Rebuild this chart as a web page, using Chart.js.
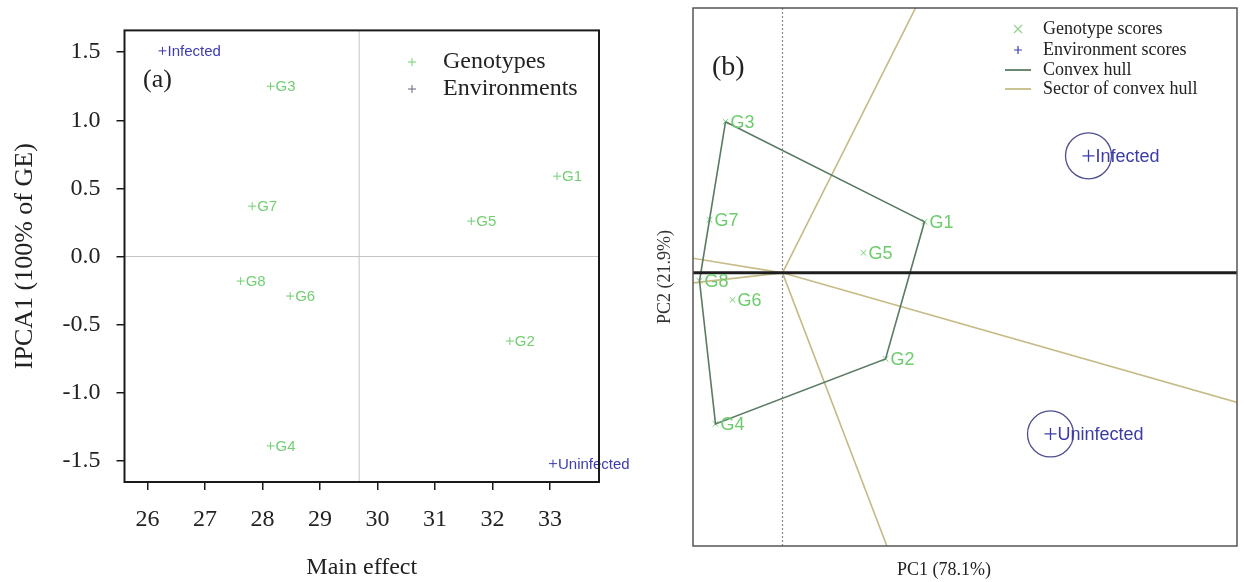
<!DOCTYPE html>
<html>
<head>
<meta charset="utf-8">
<script src="https://cdn.jsdelivr.net/npm/chart.js@4.4.1/dist/chart.umd.min.js"></script>
<style>
  body { margin: 0; background: #fff; width: 1244px; height: 582px; overflow: hidden; position: relative; }
  #ammi { position: absolute; left: 0; top: 0; }
  #gge { position: absolute; left: 640px; top: 0; }
</style>
</head>
<body>
<canvas id="ammi" width="640" height="582"></canvas>
<canvas id="gge" width="604" height="582"></canvas>
<script>
// ---- (a) AMMI1 biplot ----
var genotypes = ['G1', 'G2', 'G3', 'G4', 'G5', 'G6', 'G7', 'G8'];
var genoMean = [33.12, 32.30, 28.14, 28.14, 31.63, 28.48, 27.82, 27.62];
var genoIpca = [0.59, -0.62, 1.25, -1.39, 0.26, -0.29, 0.37, -0.18];
var environments = ['Infected', 'Uninfected'];
var envMean = [26.26, 33.05];
var envIpca = [1.51, -1.52];
var grandMean = 29.68;
var xTicksA = [26, 27, 28, 29, 30, 31, 32, 33];
var yTicksA = [-1.5, -1.0, -0.5, 0.0, 0.5, 1.0, 1.5];

// ---- (b) GGE polygon biplot ----
var genoPC1 = [1.42, 1.03, -0.57, -0.67, 0.81, -0.50, -0.73, -0.83];
var genoPC2 = [0.51, -0.86, 1.51, -1.51, 0.20, -0.27, 0.53, -0.08];
var envPC1 = [3.06, 2.68];
var envPC2 = [1.17, -1.61];
var hullOrder = ['G3', 'G1', 'G2', 'G4', 'G8', 'G3'];

var serif = '"Liberation Serif", "Times New Roman", serif';
var sans = '"Liberation Sans", Arial, sans-serif';
var green = '#72cf72';
var blue = '#3c3cb0';

function pts(xs, ys) {
  return xs.map(function (x, i) { return { x: x, y: ys[i] }; });
}

// text next to each point
var pointLabels = {
  id: 'pointLabels',
  afterDatasetsDraw: function (chart) {
    var ctx = chart.ctx;
    chart.data.datasets.forEach(function (ds, i) {
      if (!ds.labels) return;
      ctx.save();
      ctx.font = ds.labelFont;
      ctx.fillStyle = ds.labelColor;
      ctx.textBaseline = 'middle';
      ctx.textAlign = 'left';
      chart.getDatasetMeta(i).data.forEach(function (pt, j) {
        ctx.fillText(ds.labels[j], pt.x + ds.labelDx, pt.y + 1);
      });
      ctx.restore();
    });
  }
};

function mark(ctx, kind, x, y, s) {
  ctx.beginPath();
  if (kind === '+') {
    ctx.moveTo(x - s, y); ctx.lineTo(x + s, y);
    ctx.moveTo(x, y - s); ctx.lineTo(x, y + s);
  } else if (kind === 'x') {
    ctx.moveTo(x - s, y - s); ctx.lineTo(x + s, y + s);
    ctx.moveTo(x - s, y + s); ctx.lineTo(x + s, y - s);
  } else {
    ctx.moveTo(x - 13, y); ctx.lineTo(x + 13, y);
  }
  ctx.stroke();
}

// frame, reference lines, key and panel letter
var decorA = {
  id: 'decorA',
  beforeDatasetsDraw: function (chart) {
    var ctx = chart.ctx, a = chart.chartArea;
    var px = chart.scales.x.getPixelForValue(grandMean);
    var py = chart.scales.y.getPixelForValue(0);
    ctx.save();
    ctx.strokeStyle = '#c4c4c4';
    ctx.lineWidth = 1;
    ctx.beginPath();
    ctx.moveTo(px, a.top); ctx.lineTo(px, a.bottom);
    ctx.moveTo(a.left, py); ctx.lineTo(a.right, py);
    ctx.stroke();
    ctx.restore();
  },
  afterDraw: function (chart) {
    var ctx = chart.ctx, a = chart.chartArea;
    ctx.save();
    ctx.strokeStyle = '#1a1a1a';
    ctx.lineWidth = 2;
    ctx.strokeRect(a.left, a.top, a.right - a.left, a.bottom - a.top);
    ctx.font = '26px ' + serif;
    ctx.fillStyle = '#222';
    ctx.textBaseline = 'middle';
    ctx.fillText('(a)', 143, 80);
    ctx.font = '24px ' + serif;
    ctx.fillText('Genotypes', 443, 62);
    ctx.fillText('Environments', 443, 89);
    ctx.lineWidth = 1;
    ctx.strokeStyle = green;
    mark(ctx, '+', 412, 62, 4);
    ctx.strokeStyle = '#66667c';
    mark(ctx, '+', 412, 89, 4);
    ctx.restore();
  }
};

new Chart(document.getElementById('ammi'), {
  type: 'scatter',
  data: {
    datasets: [
      {
        data: pts(genoMean, genoIpca), labels: genotypes,
        pointStyle: 'cross', pointRadius: 4, borderColor: green, borderWidth: 1,
        labelColor: green, labelFont: '15px ' + sans, labelDx: 5
      },
      {
        data: pts(envMean, envIpca), labels: environments,
        pointStyle: 'cross', pointRadius: 4, borderColor: blue, borderWidth: 1,
        labelColor: blue, labelFont: '15px ' + sans, labelDx: 5
      }
    ]
  },
  options: {
    responsive: false,
    animation: false,
    devicePixelRatio: 1,
    layout: { autoPadding: false, padding: { left: 0, top: 10, right: 41, bottom: 0 } },
    plugins: { legend: { display: false }, tooltip: { enabled: false } },
    scales: {
      x: {
        type: 'linear', min: 25.6, max: 33.85,
        afterBuildTicks: function (s) { s.ticks = xTicksA.map(function (v) { return { value: v }; }); },
        afterFit: function (s) { s.height = 100; },
        grid: { drawOnChartArea: false, drawTicks: true, tickLength: 8, color: '#1a1a1a', lineWidth: 1.5 },
        border: { display: false },
        ticks: { font: { family: serif, size: 24 }, color: '#222', padding: 15, maxRotation: 0, autoSkip: false },
        title: { display: true, text: 'Main effect', font: { family: serif, size: 24 }, color: '#222', padding: { top: 0, bottom: 0 } }
      },
      y: {
        type: 'linear', min: -1.655, max: 1.66,
        afterBuildTicks: function (s) { s.ticks = yTicksA.map(function (v) { return { value: v }; }); },
        afterFit: function (s) { s.width = 124.5; },
        grid: { drawOnChartArea: false, drawTicks: true, tickLength: 8, color: '#1a1a1a', lineWidth: 1.5 },
        border: { display: false },
        ticks: {
          font: { family: serif, size: 24 }, color: '#222', padding: 16, autoSkip: false,
          callback: function (v) { return v.toFixed(1); }
        },
        title: { display: true, text: 'IPCA1 (100% of GE)', font: { family: serif, size: 26 }, color: '#222', padding: { top: 10, bottom: 0 } }
      }
    }
  },
  plugins: [decorA, pointLabels]
});

// ---- panel (b) ----
function geno(name) {
  var i = genotypes.indexOf(name);
  return { x: genoPC1[i], y: genoPC2[i] };
}
var hullPts = hullOrder.map(geno);

// sector lines: from the origin, perpendicular to each hull side
var rayData = [];
for (var k = 0; k < hullPts.length - 1; k++) {
  var dx = hullPts[k + 1].x - hullPts[k].x;
  var dy = hullPts[k + 1].y - hullPts[k].y;
  var len = Math.sqrt(dx * dx + dy * dy);
  rayData.push([{ x: 0, y: 0 }, { x: -dy / len * 20, y: dx / len * 20 }]);
}

var datasetsB = [
  {
    data: hullPts, showLine: true, pointRadius: 0, borderColor: '#5a7b63', borderWidth: 1.6, fill: false
  }
];
rayData.forEach(function (r) {
  datasetsB.push({ data: r, showLine: true, pointRadius: 0, borderColor: '#c6bb86', borderWidth: 1.6, fill: false });
});
datasetsB.push({
  data: pts(genoPC1, genoPC2), labels: genotypes,
  pointStyle: 'crossRot', pointRadius: 4, borderColor: green, borderWidth: 1,
  labelColor: '#6ccc6c', labelFont: '18px ' + sans, labelDx: 5
});
datasetsB.push({
  data: pts(envPC1, envPC2), labels: environments,
  pointStyle: 'cross', pointRadius: 6, borderColor: blue, borderWidth: 1.3,
  labelColor: '#3c3ca8', labelFont: '18px ' + sans, labelDx: 7
});
datasetsB.push({
  data: pts(envPC1, envPC2), pointStyle: 'circle', pointRadius: 23,
  borderColor: '#50508e', backgroundColor: 'rgba(0,0,0,0)', borderWidth: 1.3
});

var decorB = {
  id: 'decorB',
  beforeDatasetsDraw: function (chart) {
    var ctx = chart.ctx, a = chart.chartArea;
    var px = chart.scales.x.getPixelForValue(0);
    ctx.save();
    ctx.strokeStyle = '#8a8a8a';
    ctx.lineWidth = 1.2;
    ctx.setLineDash([2, 2]);
    ctx.beginPath();
    ctx.moveTo(px, a.top); ctx.lineTo(px, a.bottom);
    ctx.stroke();
    ctx.restore();
  },
  afterDatasetsDraw: function (chart) {
    var ctx = chart.ctx, a = chart.chartArea;
    var py = chart.scales.y.getPixelForValue(0);
    ctx.save();
    ctx.strokeStyle = '#1e1e1e';
    ctx.lineWidth = 3;
    ctx.beginPath();
    ctx.moveTo(a.left, py); ctx.lineTo(a.right, py);
    ctx.stroke();
    ctx.restore();
  },
  afterDraw: function (chart) {
    var ctx = chart.ctx, a = chart.chartArea;
    ctx.save();
    ctx.strokeStyle = '#555';
    ctx.lineWidth = 1.5;
    ctx.strokeRect(a.left, a.top, a.right - a.left, a.bottom - a.top);
    ctx.fillStyle = '#222';
    ctx.textBaseline = 'middle';
    ctx.font = '28px ' + serif;
    ctx.fillText('(b)', 72, 68);
    ctx.font = '18px ' + serif;
    ctx.textAlign = 'center';
    ctx.fillText('PC1 (78.1%)', 304, 570);
    ctx.textAlign = 'left';
    var key = [
      { y: 29, kind: 'x', color: '#8fd48f', text: 'Genotype scores' },
      { y: 50, kind: '+', color: blue, text: 'Environment scores' },
      { y: 70, kind: '-', color: '#5a7b63', text: 'Convex hull' },
      { y: 89, kind: '-', color: '#c6bb86', text: 'Sector of convex hull' }
    ];
    key.forEach(function (it) {
      ctx.strokeStyle = it.color;
      ctx.lineWidth = it.kind === '-' ? 1.8 : 1.2;
      mark(ctx, it.kind, 378, it.y, 4);
      ctx.fillStyle = '#222';
      ctx.fillText(it.text, 403, it.y);
    });
    ctx.restore();
  }
};

new Chart(document.getElementById('gge'), {
  type: 'scatter',
  data: { datasets: datasetsB },
  options: {
    responsive: false,
    animation: false,
    devicePixelRatio: 1,
    layout: { autoPadding: false, padding: { left: 0, top: 8, right: 7, bottom: 0 } },
    plugins: { legend: { display: false }, tooltip: { enabled: false } },
    scales: {
      x: {
        type: 'linear', min: -0.895, max: 4.545,
        afterFit: function (s) { s.height = 36; },
        grid: { display: false }, border: { display: false },
        ticks: { display: false }
      },
      y: {
        type: 'linear', min: -2.73, max: 2.647,
        afterFit: function (s) { s.width = 53; },
        grid: { display: false }, border: { display: false },
        ticks: { display: false },
        title: { display: true, text: 'PC2 (21.9%)', font: { family: serif, size: 18 }, color: '#333', padding: { top: 14, bottom: 0 } }
      }
    }
  },
  plugins: [decorB, pointLabels]
});
</script>
</body>
</html>
